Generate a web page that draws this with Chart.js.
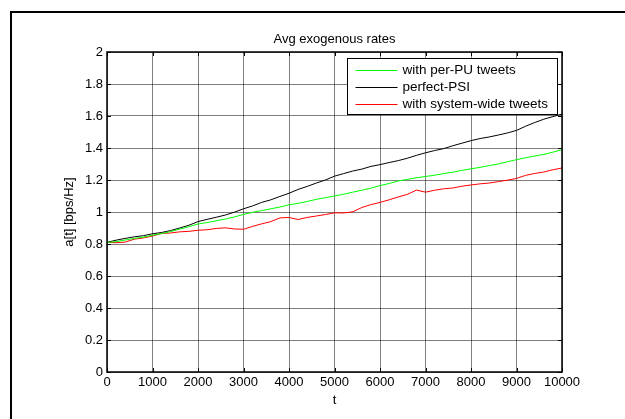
<!DOCTYPE html>
<html>
<head>
<meta charset="utf-8">
<title>Avg exogenous rates</title>
<script src="https://cdn.jsdelivr.net/npm/chart.js@4/dist/chart.umd.min.js"></script>
<style>
  body { margin: 0; background: #fff; }
  #chart { display: block; }
</style>
</head>
<body>
<canvas id="chart" width="625" height="419"></canvas>
<script>
// Data (t every 200)
const tValues = [
  0, 200, 400, 600, 800, 1000, 1200, 1400, 1600, 1800,
  2000, 2200, 2400, 2600, 2800, 3000, 3200, 3400, 3600, 3800,
  4000, 4200, 4400, 4600, 4800, 5000, 5200, 5400, 5600, 5800,
  6000, 6200, 6400, 6600, 6800, 7000, 7200, 7400, 7600, 7800,
  8000, 8200, 8400, 8600, 8800, 9000, 9200, 9400, 9600, 9800, 10000
];

const perPU = [
  0.81, 0.815, 0.825, 0.835, 0.843, 0.855, 0.865, 0.878, 0.893, 0.908,
  0.925, 0.934, 0.945, 0.956, 0.969, 0.985, 0.998, 1.009, 1.02, 1.031,
  1.045, 1.054, 1.066, 1.079, 1.09, 1.1, 1.111, 1.124, 1.136, 1.149,
  1.165, 1.178, 1.194, 1.204, 1.214, 1.222, 1.23, 1.24, 1.249, 1.26,
  1.27, 1.279, 1.29, 1.3, 1.314, 1.327, 1.339, 1.35, 1.36, 1.374, 1.39
];

const perfectPSI = [
  0.81, 0.824, 0.835, 0.845, 0.852, 0.864, 0.872, 0.884, 0.9, 0.917,
  0.94, 0.954, 0.967, 0.981, 0.999, 1.02, 1.038, 1.06, 1.076, 1.097,
  1.117, 1.141, 1.16, 1.181, 1.2, 1.224, 1.24, 1.256, 1.268, 1.285,
  1.296, 1.309, 1.321, 1.336, 1.354, 1.37, 1.384, 1.396, 1.414, 1.43,
  1.446, 1.459, 1.469, 1.481, 1.494, 1.51, 1.536, 1.559, 1.58, 1.596, 1.612
];

const systemWide = [
  0.81, 0.808, 0.812, 0.83, 0.838, 0.85, 0.866, 0.869, 0.876, 0.879,
  0.886, 0.889, 0.897, 0.901, 0.894, 0.892, 0.91, 0.926, 0.94, 0.963,
  0.966, 0.953, 0.966, 0.975, 0.984, 0.995, 0.994, 1.001, 1.028, 1.046,
  1.06, 1.076, 1.094, 1.11, 1.137, 1.124, 1.136, 1.145, 1.15, 1.161,
  1.169, 1.176, 1.181, 1.19, 1.199, 1.21, 1.229, 1.241, 1.25, 1.264, 1.275
];

const seriesNames = ["with per-PU tweets", "perfect-PSI", "with system-wide tweets"];
const seriesColors = ["#00ff00", "#000000", "#ff0000"];

const xTickValues = [0, 1000, 2000, 3000, 4000, 5000, 6000, 7000, 8000, 9000, 10000];
const xTickLabels = ["0", "1000", "2000", "3000", "4000", "5000", "6000", "7000", "8000", "9000", "10000"];
const yTickValues = [0, 0.2, 0.4, 0.6, 0.8, 1, 1.2, 1.4, 1.6, 1.8, 2];
const yTickLabels = ["0", "0.2", "0.4", "0.6", "0.8", "1", "1.2", "1.4", "1.6", "1.8", "2"];

const FONT = '"Liberation Sans", Arial, sans-serif';

// Build the point lists
function toPoints(values) {
  return tValues.map((t, i) => ({ x: t, y: values[i] }));
}

// Figure frame, axes box, inward ticks, title and legend (matlab look)
const matlabLook = {
  id: "matlabLook",
  beforeDraw(chart) {
    const ctx = chart.ctx;
    ctx.save();
    ctx.fillStyle = "#fff";
    ctx.fillRect(0, 0, chart.width, chart.height);
    ctx.strokeStyle = "#000";
    ctx.lineWidth = 2;
    ctx.beginPath();
    ctx.moveTo(11, chart.height);
    ctx.lineTo(11, 12);
    ctx.lineTo(chart.width, 12);
    ctx.stroke();
    ctx.restore();
  },
  afterDraw(chart) {
    const ctx = chart.ctx;
    const a = chart.chartArea;
    const xs = chart.scales.x;
    const ys = chart.scales.y;
    ctx.save();

    // axes box
    ctx.strokeStyle = "#000";
    ctx.lineWidth = 1.5;
    ctx.strokeRect(a.left, a.top, a.right - a.left, a.bottom - a.top);

    // inward tick marks on all sides
    ctx.lineWidth = 1;
    ctx.beginPath();
    xs.ticks.forEach((tk) => {
      const px = Math.round(xs.getPixelForValue(tk.value)) + 0.5;
      ctx.moveTo(px, a.bottom);
      ctx.lineTo(px, a.bottom - 4);
      ctx.moveTo(px, a.top);
      ctx.lineTo(px, a.top + 4);
    });
    ys.ticks.forEach((tk) => {
      const py = Math.round(ys.getPixelForValue(tk.value)) + 0.5;
      ctx.moveTo(a.left, py);
      ctx.lineTo(a.left + 4, py);
      ctx.moveTo(a.right, py);
      ctx.lineTo(a.right - 4, py);
    });
    ctx.stroke();

    // title
    ctx.fillStyle = "#000";
    ctx.font = "13px " + FONT;
    ctx.textAlign = "center";
    ctx.textBaseline = "middle";
    ctx.fillText("Avg exogenous rates", (a.left + a.right) / 2, 39);

    // legend box
    ctx.font = "13.5px " + FONT;
    const widths = chart.data.datasets.map((d) => ctx.measureText(d.label).width);
    const boxW = Math.round(8 + 42 + 5 + Math.max(...widths) + 9);
    const rowH = 17;
    const boxH = 56;
    const bx = Math.round(a.right - 5 - boxW) + 0.5;
    const by = Math.round(a.top + 6) + 0.5;
    ctx.fillStyle = "#fff";
    ctx.fillRect(bx, by, boxW, boxH);
    ctx.strokeStyle = "#000";
    ctx.lineWidth = 1;
    ctx.strokeRect(bx, by, boxW, boxH);
    ctx.textAlign = "left";
    chart.data.datasets.forEach((d, i) => {
      const ry = by + 11 + i * rowH;
      ctx.strokeStyle = d.borderColor;
      ctx.beginPath();
      ctx.moveTo(bx + 8, Math.round(ry) + 0.5);
      ctx.lineTo(bx + 50, Math.round(ry) + 0.5);
      ctx.stroke();
      ctx.fillStyle = "#000";
      ctx.fillText(d.label, bx + 55, ry + 0.5);
    });

    ctx.restore();
  },
};

Chart.defaults.font.family = FONT;
Chart.defaults.font.size = 13;
Chart.defaults.color = "#000";

const gridStyle = {
  color: "rgba(0, 0, 0, 0.5)",
  lineWidth: 1,
  drawTicks: false,
};

new Chart(document.getElementById("chart"), {
  type: "line",
  data: {
    datasets: [perPU, perfectPSI, systemWide].map((values, i) => ({
      label: seriesNames[i],
      data: toPoints(values),
      borderColor: seriesColors[i],
      backgroundColor: seriesColors[i],
      borderWidth: 1,
      pointRadius: 0,
      tension: 0,
      fill: false,
    })),
  },
  options: {
    responsive: false,
    animation: false,
    layout: { padding: { left: 0, top: 52, right: 63, bottom: 0 } },
    plugins: {
      legend: { display: false },
      title: { display: false },
      tooltip: { enabled: false },
    },
    scales: {
      x: {
        type: "linear",
        min: 0,
        max: 10000,
        afterBuildTicks: (scale) => {
          scale.ticks = xTickValues.map((v) => ({ value: v }));
        },
        afterFit: (scale) => {
          scale.height = 47;
        },
        ticks: {
          padding: 3,
          maxRotation: 0,
          autoSkip: false,
          callback: (v, i) => xTickLabels[i],
        },
        grid: gridStyle,
        border: { display: false },
        title: {
          display: true,
          text: "t",
          padding: { top: 0, bottom: 11 },
        },
      },
      y: {
        type: "linear",
        min: 0,
        max: 2,
        afterBuildTicks: (scale) => {
          scale.ticks = yTickValues.map((v) => ({ value: v }));
        },
        afterFit: (scale) => {
          scale.width = 107;
        },
        ticks: {
          padding: 4,
          autoSkip: false,
          callback: (v, i) => yTickLabels[i],
        },
        grid: gridStyle,
        border: { display: false },
        title: {
          display: true,
          text: "a[t] [bps/Hz]",
          padding: { top: 62, bottom: 0 },
        },
      },
    },
  },
  plugins: [matlabLook],
});
</script>
</body>
</html>
